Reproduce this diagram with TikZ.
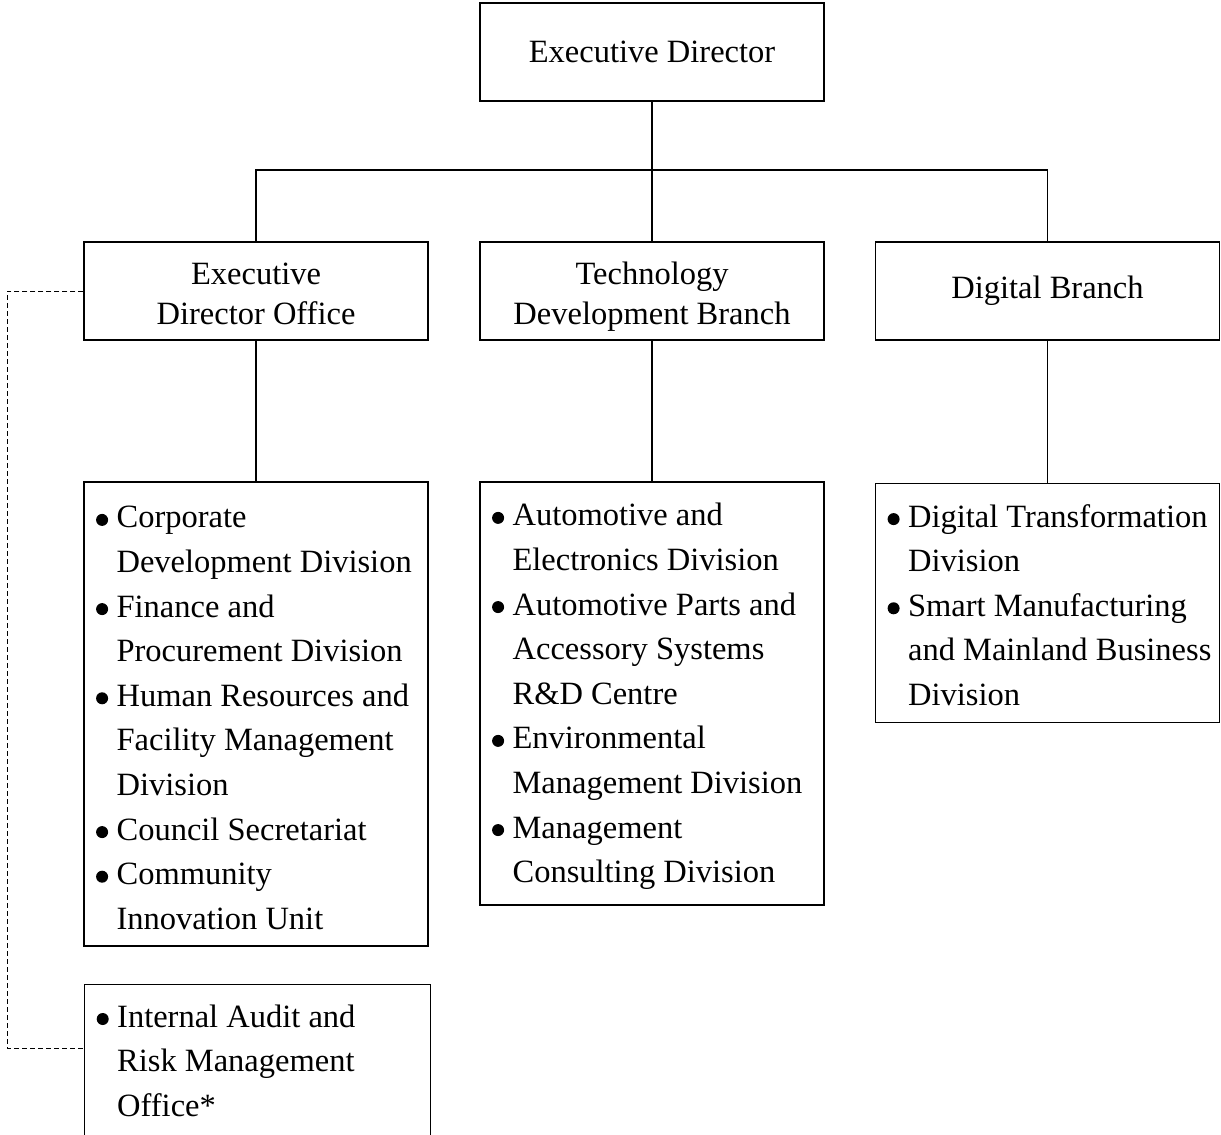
\documentclass[tikz,border=0pt]{standalone}
\usepackage{fontspec}
\setmainfont{Liberation Serif}
\usetikzlibrary{calc}
\newcommand{\bul}{\makebox[25pt][l]{\hspace{4.5pt}\tikz[baseline=0pt]\fill (6pt,8pt) circle (6pt);}}
\newcommand{\ind}{\hspace*{25pt}}
\tikzset{
  box/.style={draw, line width=1.2pt, inner sep=0pt, minimum width=344pt},
  headbox/.style={box, minimum height=98pt, align=center, font=\fontsize{32.5}{40}\selectfont},
  twoline/.style={text height=74pt, text depth=8pt},
  listbox/.style={box},
  listtext/.style={align=left, inner sep=0pt, font=\fontsize{32.5}{44.6}\selectfont},
  conn/.style={line width=1.5pt},
  dashconn/.style={line width=0.8pt, dash pattern=on 5pt off 3pt}
}
\begin{document}
\begin{tikzpicture}[x=1pt, y=-1pt]
\useasboundingbox (0,0) rectangle (1221,1135);
\clip (0,0) rectangle (1221,1135);
% level 1
\node[headbox] (ed) at (652,52) {Executive Director};
% level 2
\node[headbox, twoline] (edo) at (256,291) {Executive\\Director Office};
\node[headbox, twoline] (tdb) at (652,291) {Technology\\Development Branch};
\node[headbox] (db) at (1047.5,291) {Digital Branch};
% level 3 boxes
\node[listbox, minimum height=464pt] (l1) at (256,714) {};
\node[listbox, minimum height=423pt] (l2) at (652,693.5) {};
\node[listbox, minimum height=239pt] (l3) at (1047.5,603) {};
\node[listbox, minimum width=346pt, minimum height=200pt, anchor=north west] (ia) at (84,984) {};
% list texts
\node[listtext, anchor=west] (t1) at ([xshift=8pt,yshift=-4pt]l1.west) {\bul Corporate\\ \ind Development Division\\ \bul Finance and\\ \ind Procurement Division\\ \bul Human Resources and\\ \ind Facility Management\\ \ind Division\\ \bul Council Secretariat\\ \bul Community\\ \ind Innovation Unit};
\node[listtext, anchor=west] (t2) at ([xshift=8pt,yshift=-3pt]l2.west) {\bul Automotive and\\ \ind Electronics Division\\ \bul Automotive Parts and\\ \ind Accessory Systems\\ \ind R\&D Centre\\ \bul Environmental\\ \ind Management Division\\ \bul Management\\ \ind Consulting Division};
\node[listtext, anchor=west] (t3) at ([xshift=8pt,yshift=-2pt]l3.west) {\bul Digital Transformation\\ \ind Division\\ \bul Smart Manufacturing\\ \ind and Mainland Business\\ \ind Division};
\node[listtext, anchor=base west] (t4) at ($(ia.north west)+(8,132.2)$) {\bul Internal Audit and\\ \ind Risk Management\\ \ind Office*};
% connectors
\coordinate (hub) at (652,170);
\draw[conn] (ed) -- (tdb);
\draw[conn] (edo.north) |- (hub) -| (db.north);
\draw[conn] (edo) -- (l1);
\draw[conn] (tdb) -- (l2);
\draw[conn] (db) -- (l3);
% dashed link
\coordinate (iaw) at ($(ia.north west)+(0,64)$);
\draw[dashconn] (edo.west) -- ++(-76,0) |- (iaw);
\end{tikzpicture}
\end{document}
